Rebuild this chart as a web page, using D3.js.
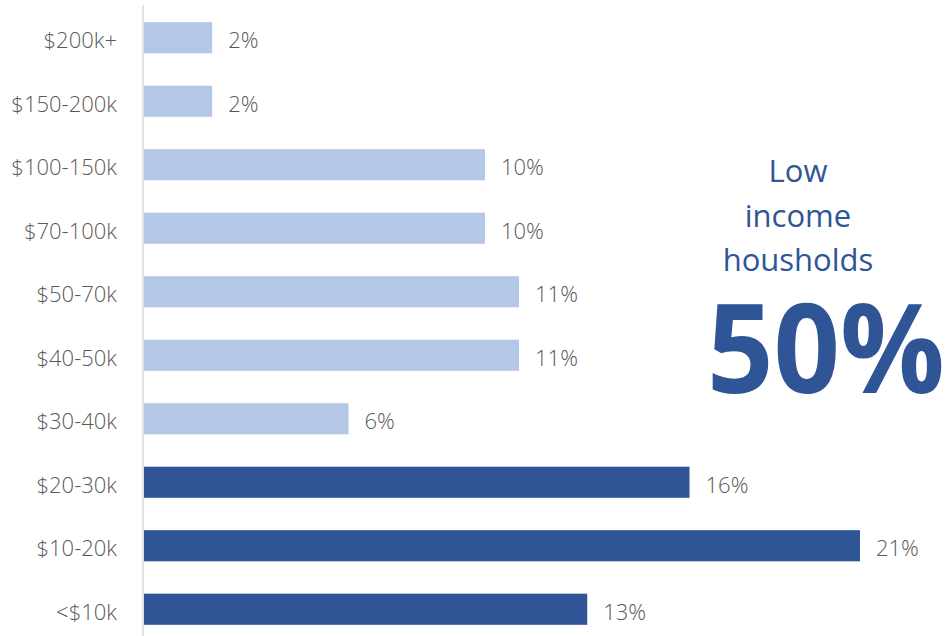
<!DOCTYPE html>
<html>
<head>
<meta charset="utf-8">
<script src="https://cdn.jsdelivr.net/npm/d3@7"></script>
<style>
  html, body { margin: 0; padding: 0; background: #ffffff; }
  svg { display: block; }
</style>
</head>
<body>
<svg id="chart" width="949" height="636"></svg>
<script>
// Household income distribution, top bracket first
const categories = ["$200k+", "$150-200k", "$100-150k", "$70-100k", "$50-70k",
                    "$40-50k", "$30-40k", "$20-30k", "$10-20k", "<$10k"];
const shares = [2, 2, 10, 10, 11, 11, 6, 16, 21, 13];
const lowIncome = ["$20-30k", "$10-20k", "<$10k"];
const calloutLines = ["Low", "income", "housholds"];
const calloutValue = "50%";

const FONT = "'Open Sans', 'Segoe UI', 'Noto Sans', sans-serif";
const DARK = "#2f5597";
const LIGHT = "#b4c7e7";
const GREY_TEXT = "#595959";

const svg = d3.select("#chart");

const x0 = 144;
const x = d3.scaleLinear().domain([0, 21]).range([x0, 860]);
const y = d3.scaleBand().domain(categories).range([6, 641]).paddingInner(0.51).paddingOuter(0.255);

// bars
svg.append("g").selectAll("rect")
  .data(categories)
  .join("rect")
  .attr("x", x(0))
  .attr("y", d => y(d))
  .attr("width", (d, i) => x(shares[i]) - x(0))
  .attr("height", y.bandwidth())
  .attr("fill", d => lowIncome.includes(d) ? DARK : LIGHT);

// category axis (labels only, vertical rule drawn separately)
const axis = d3.axisLeft(y).tickSize(0).tickPadding(26);
const gAxis = svg.append("g").attr("transform", `translate(${x0 - 1},0)`).call(axis);
gAxis.select(".domain").remove();
gAxis.selectAll("text")
  .attr("dy", "0.48em")
  .attr("font-family", FONT)
  .attr("font-weight", 300)
  .attr("font-size", 22)
  .attr("fill", GREY_TEXT);

svg.append("line")
  .attr("x1", x0 - 1).attr("x2", x0 - 1)
  .attr("y1", 5).attr("y2", 636)
  .attr("stroke", "#d9d9d9").attr("stroke-width", 1.5);

// value labels
svg.append("g").selectAll("text")
  .data(categories)
  .join("text")
  .attr("x", (d, i) => x(shares[i]) + 16)
  .attr("y", d => y(d) + y.bandwidth() / 2)
  .attr("dy", "0.48em")
  .attr("font-family", FONT)
  .attr("font-weight", 300)
  .attr("font-size", 22)
  .attr("fill", GREY_TEXT)
  .text((d, i) => shares[i] + "%");

// callout
const callout = svg.append("g").attr("fill", DARK).attr("font-family", FONT).attr("text-anchor", "middle");
callout.selectAll("text.line")
  .data(calloutLines)
  .join("text")
  .attr("class", "line")
  .attr("x", 798)
  .attr("y", (d, i) => 182 + i * 44.5)
  .attr("font-size", 31)
  .text(d => d);

callout.append("text")
  .attr("x", 826)
  .attr("y", 393)
  .attr("font-size", 124)
  .attr("font-weight", 700)
  .attr("textLength", 238)
  .attr("lengthAdjust", "spacingAndGlyphs")
  .text(calloutValue);
</script>
</body>
</html>
